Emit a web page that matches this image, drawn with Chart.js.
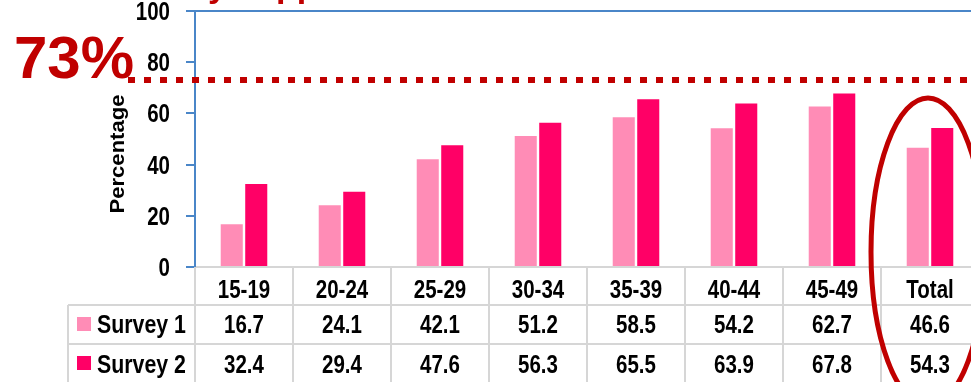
<!DOCTYPE html>
<html>
<head>
<meta charset="utf-8">
<script src="https://cdn.jsdelivr.net/npm/chart.js@4/dist/chart.umd.min.js"></script>
<style>
    html, body { margin: 0; padding: 0; background: #fff; overflow: hidden; }
    #wrap { width: 1000px; height: 382px; }
</style>
</head>
<body>
<div id="wrap"><canvas id="ageChart" width="1000" height="382"></canvas></div>
<script>
const ageGroups = ['15-19', '20-24', '25-29', '30-34', '35-39', '40-44', '45-49', 'Total'];
const survey1 = [16.7, 24.1, 42.1, 51.2, 58.5, 54.2, 62.7, 46.6];
const survey2 = [32.4, 29.4, 47.6, 56.3, 65.5, 63.9, 67.8, 54.3];
const yTicks = [0, 20, 40, 60, 80, 100];
const seriesNames = ['Survey 1', 'Survey 2'];
const targetLevel = 73;

const FONT = "'Liberation Sans', Arial, sans-serif";
const AXIS_BLUE = '#4a86c8';
const GRID_GREY = '#d6d6d6';
const DARK_RED = '#c00000';

// condensed bold text: regular Arial squeezed horizontally
function narrowText(ctx, text, x, y, align, size) {
    ctx.save();
    ctx.translate(x, y);
    ctx.scale(0.82, 1);
    ctx.font = 'bold ' + size + 'px ' + FONT;
    ctx.textAlign = align;
    ctx.textBaseline = 'alphabetic';
    ctx.fillText(text, 0, 0);
    ctx.restore();
}

// table under the plot, legend swatches, target line and highlight ring
const extras = {
    id: 'extras',
    afterDraw(chart) {
        const { ctx, chartArea: area, scales: { x, y } } = chart;
        const colW = x.getPixelForValue(1) - x.getPixelForValue(0);
        const right = chart.width;
        const row0 = area.bottom;
        const row1 = row0 + 38;
        const row2 = row1 + 39;
        const tableLeft = 68;

        ctx.save();

        // top frame line
        ctx.strokeStyle = AXIS_BLUE;
        ctx.lineWidth = 2;
        ctx.beginPath();
        ctx.moveTo(area.left, area.top);
        ctx.lineTo(right, area.top);
        ctx.stroke();

        // y tick labels
        ctx.fillStyle = '#000';
        yTicks.forEach(v => {
            narrowText(ctx, String(v), 170, y.getPixelForValue(v) + 9, 'right', 25);
        });

        // table grid
        ctx.strokeStyle = GRID_GREY;
        ctx.lineWidth = 2;
        ctx.beginPath();
        ctx.moveTo(area.left + 1, row0);
        ctx.lineTo(right, row0);
        ctx.moveTo(tableLeft, row1);
        ctx.lineTo(right, row1);
        ctx.moveTo(tableLeft, row2);
        ctx.lineTo(right, row2);
        ctx.moveTo(tableLeft, row1);
        ctx.lineTo(tableLeft, chart.height);
        for (let i = 0; i <= ageGroups.length; i++) {
            const cx = area.left + i * colW;
            ctx.moveTo(cx, row0);
            ctx.lineTo(cx, chart.height);
        }
        ctx.stroke();

        // category labels and values
        ageGroups.forEach((label, i) => {
            const cx = x.getPixelForValue(i);
            narrowText(ctx, label, cx, row0 + 31, 'center', 25);
            narrowText(ctx, survey1[i].toFixed(1), cx, row1 + 28, 'center', 25);
            narrowText(ctx, survey2[i].toFixed(1), cx, row2 + 29, 'center', 25);
        });

        // legend column
        chart.data.datasets.forEach((ds, k) => {
            const top = k === 0 ? row1 : row2;
            ctx.fillStyle = ds.backgroundColor;
            ctx.fillRect(77, top + 12, 14, 14);
            ctx.fillStyle = '#000';
            narrowText(ctx, seriesNames[k], 97, top + 28 + k, 'left', 26);
        });

        // y axis title
        ctx.save();
        ctx.translate(124, 154);
        ctx.rotate(-Math.PI / 2);
        ctx.scale(1.05, 1);
        ctx.textAlign = 'center';
        ctx.font = 'bold 21px ' + FONT;
        ctx.fillText('Percentage', 0, 0);
        ctx.restore();

        // title running off the top edge
        ctx.fillStyle = DARK_RED;
        ctx.font = 'bold 34px ' + FONT;
        const title = 'Mostly supportive';
        const lead = ctx.measureText('Mostl').width;
        ctx.fillText(title, 208 - lead, -3);

        // target label and dotted line
        const ty = y.getPixelForValue(targetLevel);
        ctx.font = 'bold 60px ' + FONT;
        ctx.fillText(targetLevel + '%', 14, 78);
        ctx.strokeStyle = DARK_RED;
        ctx.lineWidth = 6;
        ctx.setLineDash([7, 9]);
        ctx.beginPath();
        ctx.moveTo(128, ty);
        ctx.lineTo(right, ty);
        ctx.stroke();
        ctx.setLineDash([]);

        // ring around the total column
        const totalX = x.getPixelForValue(ageGroups.length - 1) - 2;
        ctx.lineWidth = 5;
        ctx.beginPath();
        ctx.ellipse(totalX, 252, 57, 154, 0, 0, Math.PI * 2);
        ctx.stroke();

        ctx.restore();
    },
};

new Chart(document.getElementById('ageChart'), {
    type: 'bar',
    data: {
        labels: ageGroups,
        datasets: [
            {
                label: seriesNames[0],
                data: survey1,
                backgroundColor: '#ff8cb6',
                categoryPercentage: 0.5,
                barPercentage: 0.9,
            },
            {
                label: seriesNames[1],
                data: survey2,
                backgroundColor: '#ff0066',
                categoryPercentage: 0.5,
                barPercentage: 0.9,
            },
        ],
    },
    options: {
        responsive: false,
        animation: false,
        devicePixelRatio: 1,
        layout: {
            padding: { top: 11, right: 21, bottom: 115, left: 0 },
        },
        plugins: {
            legend: { display: false },
            tooltip: { enabled: false },
        },
        scales: {
            x: {
                display: false,
            },
            y: {
                min: 0,
                max: 100,
                afterBuildTicks(scale) {
                    scale.ticks = yTicks.map(v => ({ value: v }));
                },
                afterFit(scale) {
                    scale.width = 195;
                    scale.paddingTop = 0;
                    scale.paddingBottom = 0;
                },
                ticks: {
                    display: false,
                },
                grid: {
                    drawOnChartArea: false,
                    tickLength: 9,
                    color: AXIS_BLUE,
                    lineWidth: 2,
                },
                border: {
                    color: AXIS_BLUE,
                    width: 2,
                },
            },
        },
    },
    plugins: [extras],
});
</script>
</body>
</html>
